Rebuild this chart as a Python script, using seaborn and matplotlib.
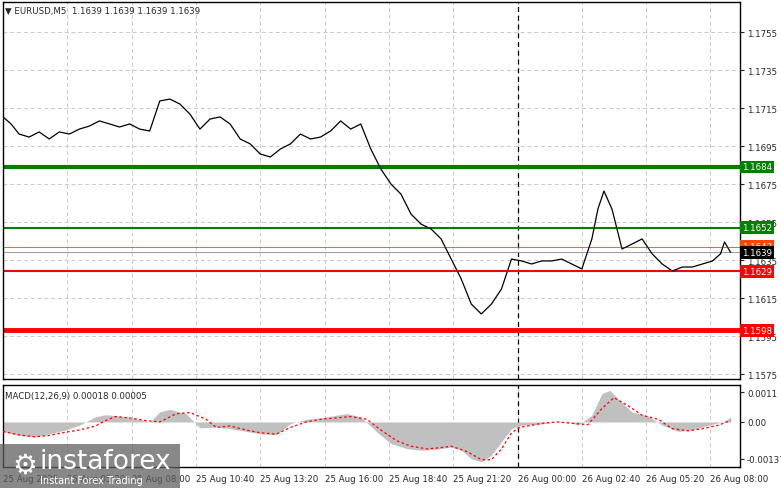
import matplotlib
matplotlib.use("Agg")
import matplotlib.pyplot as plt
import seaborn as sns
import pandas as pd
from matplotlib.patches import Rectangle

sns.set_style("white")
plt.rcParams['font.family'] = ['DejaVu Sans']

price_bars = [0,4,8,13,18,23,28,33,38,43,48,53,58,63,68,73,78,83,88,93,98,103,108,113,118,123,128,133,138,143,148,153,158,163,168,173,178,183,188,193,198,203,208,213,218,223,228,233,238,243,248,253,258,263,268,273,278,283,288,293,296,299,303,308,313,318,323,328,333,338,343,348,353,357,359,362]
price = [1.17103,1.17066,1.17013,1.16997,1.17024,1.16987,1.17024,1.17013,1.17039,1.17055,1.17082,1.17066,1.1705,1.17066,1.17039,1.17029,1.17187,1.17197,1.17171,1.17118,1.17039,1.17092,1.17103,1.17066,1.16987,1.16961,1.16908,1.16892,1.16934,1.16961,1.17013,1.16987,1.16997,1.17029,1.17082,1.17039,1.17066,1.16934,1.16829,1.1675,1.16697,1.16592,1.16539,1.16513,1.16461,1.16355,1.1625,1.16118,1.16066,1.16118,1.16197,1.16355,1.16345,1.16329,1.16345,1.16345,1.16355,1.16329,1.16303,1.16461,1.16618,1.16713,1.16618,1.16408,1.16434,1.16461,1.16382,1.16329,1.16292,1.16313,1.16313,1.16329,1.16345,1.16382,1.16445,1.16390]

hist_bars = [0,8,16,23,31,38,46,51,58,66,73,78,83,91,98,106,113,121,128,136,143,151,158,166,171,178,186,193,201,208,216,223,228,233,238,243,248,253,258,266,273,281,286,293,298,302,306,313,321,328,336,343,351,358,362]
hist = [-0.00036,-0.0005,-0.00056,-0.00044,-0.0003,-0.00012,0.00019,0.00027,0.00022,0.00012,0.0,0.00037,0.00047,0.00031,-0.00022,-0.00019,-0.00025,-0.00035,-0.00044,-0.00047,-0.00006,0.0001,0.00015,0.00025,0.00031,0.00019,-0.00037,-0.0008,-0.00099,-0.00105,-0.00101,-0.00093,-0.00105,-0.00136,-0.00148,-0.00123,-0.00074,-0.00025,-0.00012,-0.0001,-0.00002,0.00003,-0.00012,0.00025,0.00105,0.00117,0.00086,0.00037,0.00022,-0.00012,-0.00035,-0.0003,-0.00012,0.0,0.00018]

sig_bars = [0,8,16,23,31,38,46,51,56,63,71,78,86,93,101,106,113,121,128,136,143,151,158,166,173,181,188,196,203,211,218,223,231,238,243,248,253,257,261,268,276,283,291,298,304,311,318,326,333,341,348,356,362]
signal = [-0.00035,-0.00048,-0.00055,-0.0005,-0.00038,-0.0003,-0.00015,0.00005,0.0002,0.00015,0.00005,0.0,0.0003,0.00035,0.0001,-0.0002,-0.00015,-0.0003,-0.0004,-0.00045,-0.0002,0.0,0.0001,0.00015,0.0002,0.0001,-0.0003,-0.0007,-0.0009,-0.001,-0.00095,-0.0009,-0.0011,-0.0014,-0.0014,-0.001,-0.0004,-0.0002,-0.00015,-0.00005,0.0,-0.00005,-0.0001,0.0005,0.0009,0.0006,0.00025,0.0001,-0.00025,-0.00033,-0.00025,-0.00012,0.00005]

time_labels = ["25 Aug 2025","25 Aug 05:20","25 Aug 08:00","25 Aug 10:40","25 Aug 13:20","25 Aug 16:00","25 Aug 18:40","25 Aug 21:20","26 Aug 00:00","26 Aug 02:40","26 Aug 05:20","26 Aug 08:00"]
price_ticks = [1.1755,1.1735,1.1715,1.1695,1.1675,1.1655,1.1635,1.1615,1.1595,1.1575]
levels = [1.1684, 1.1652, 1.1629, 1.1598]
level_colors = ["#008000", "#008000", "#ff0000", "#ff0000"]
level_widths = [3, 1.5, 1.5, 3.5]
last_price = 1.1639
ask_price = 1.1642

FS = 6.2
W, H = 781, 489
fig = plt.figure(figsize=(W/100, H/100), dpi=100)
L, R = 3/W, 740/W
ax = fig.add_axes([L, 1-380/H, R-L, (380-3)/H])
ax2 = fig.add_axes([L, 1-468/H, R-L, (468-386)/H])
XMAX = 366.7
tick_bars = [32*i for i in range(len(time_labels))]

ymax = 1.1755 + 30/19000
ymin = 1.1575 - 5/19000
for a in (ax, ax2):
    a.set_xlim(0, XMAX)
    for b in tick_bars:
        a.axvline(b, color="#c8c8c8", ls=(0, (4, 3)), lw=0.7, zorder=0)
    a.axvline(256, color="black", ls=(0, (4, 3)), lw=0.9, zorder=1)
    for s in a.spines.values():
        s.set_color("black"); s.set_linewidth(1)

ax.set_ylim(ymin, ymax)
for t in price_ticks:
    ax.axhline(t, color="#c8c8c8", ls=(0, (4, 3)), lw=0.7, zorder=0)
for lv, c, w in zip(levels, level_colors, level_widths):
    ax.axhline(lv, color=c, lw=w, zorder=2)
ax.axhline(last_price, color="#a0a0a0", lw=0.8, zorder=2)
ax.axhline(ask_price, color="#ff4500", lw=0.6, zorder=2)

df = pd.DataFrame({"bar": price_bars, "price": price})
sns.lineplot(data=df, x="bar", y="price", ax=ax, color="black", lw=0.9, zorder=3)
ax.yaxis.tick_right()
ax.set_yticks(price_ticks)
ax.set_yticklabels([f"{t:.4f}" for t in price_ticks], fontsize=FS)
ax.tick_params(axis="y", length=3, pad=2)
ax.set_xticks([]); ax.set_xlabel(""); ax.set_ylabel("")

def tag(axis, y, text, bg, fg="white"):
    axis.annotate(text, xy=(1.0, y), xycoords=("axes fraction", "data"), xytext=(1.5, 0),
                  textcoords="offset points", va="center", ha="left", fontsize=FS, color=fg,
                  bbox=dict(boxstyle="square,pad=0.2", fc=bg, ec="none"), zorder=10,
                  annotation_clip=False)
tag(ax, ask_price, "1.1642", "#ff4500")
for lv, c in zip(levels, level_colors):
    tag(ax, lv, f"{lv:.4f}", c)
tag(ax, last_price, "1.1639", "black")

ax.text(0.003, 0.99, "▼ EURUSD,M5  1.1639 1.1639 1.1639 1.1639", transform=ax.transAxes,
        fontsize=FS, va="top", ha="left")

# MACD
ax2.set_ylim(-0.00167, 0.00137)
ax2.fill_between(hist_bars, hist, 0, color="#c0c0c0", lw=0, zorder=2)
dfs = pd.DataFrame({"bar": sig_bars, "signal": signal})
sns.lineplot(data=dfs, x="bar", y="signal", ax=ax2, color="red", lw=0.9, ls=(0, (2, 2)), zorder=3)
ax2.yaxis.tick_right()
ax2.set_yticks([0.0011, 0.0, -0.00137])
ax2.set_yticklabels(["0.0011", "0.00", "-0.00137"], fontsize=FS)
ax2.tick_params(axis="y", length=3, pad=2)
ax2.set_xticks(tick_bars)
ax2.set_xticklabels(time_labels, fontsize=FS, ha="left")
ax2.tick_params(axis="x", length=3, pad=2)
ax2.set_xlabel(""); ax2.set_ylabel("")
ax2.text(0.003, 0.93, "MACD(12,26,9) 0.00018 0.00005", transform=ax2.transAxes,
         fontsize=FS, va="top", ha="left")

# watermark
fig.patches.append(Rectangle((0, 0), 180/W, 44/H, transform=fig.transFigure,
                             fc="#606060", alpha=0.75, ec="none", zorder=20))
fig.text(12/W, 1-466/H, "⚙", fontsize=20, color="white", va="center", zorder=21)
fig.text(40/W, 1-462/H, "instaforex", fontsize=19, color="white", va="center", zorder=21)
fig.text(40/W, 1-481/H, "Instant Forex Trading", fontsize=7, color="white", va="center", zorder=21)

fig.savefig("out.png", dpi=100, facecolor="white")
